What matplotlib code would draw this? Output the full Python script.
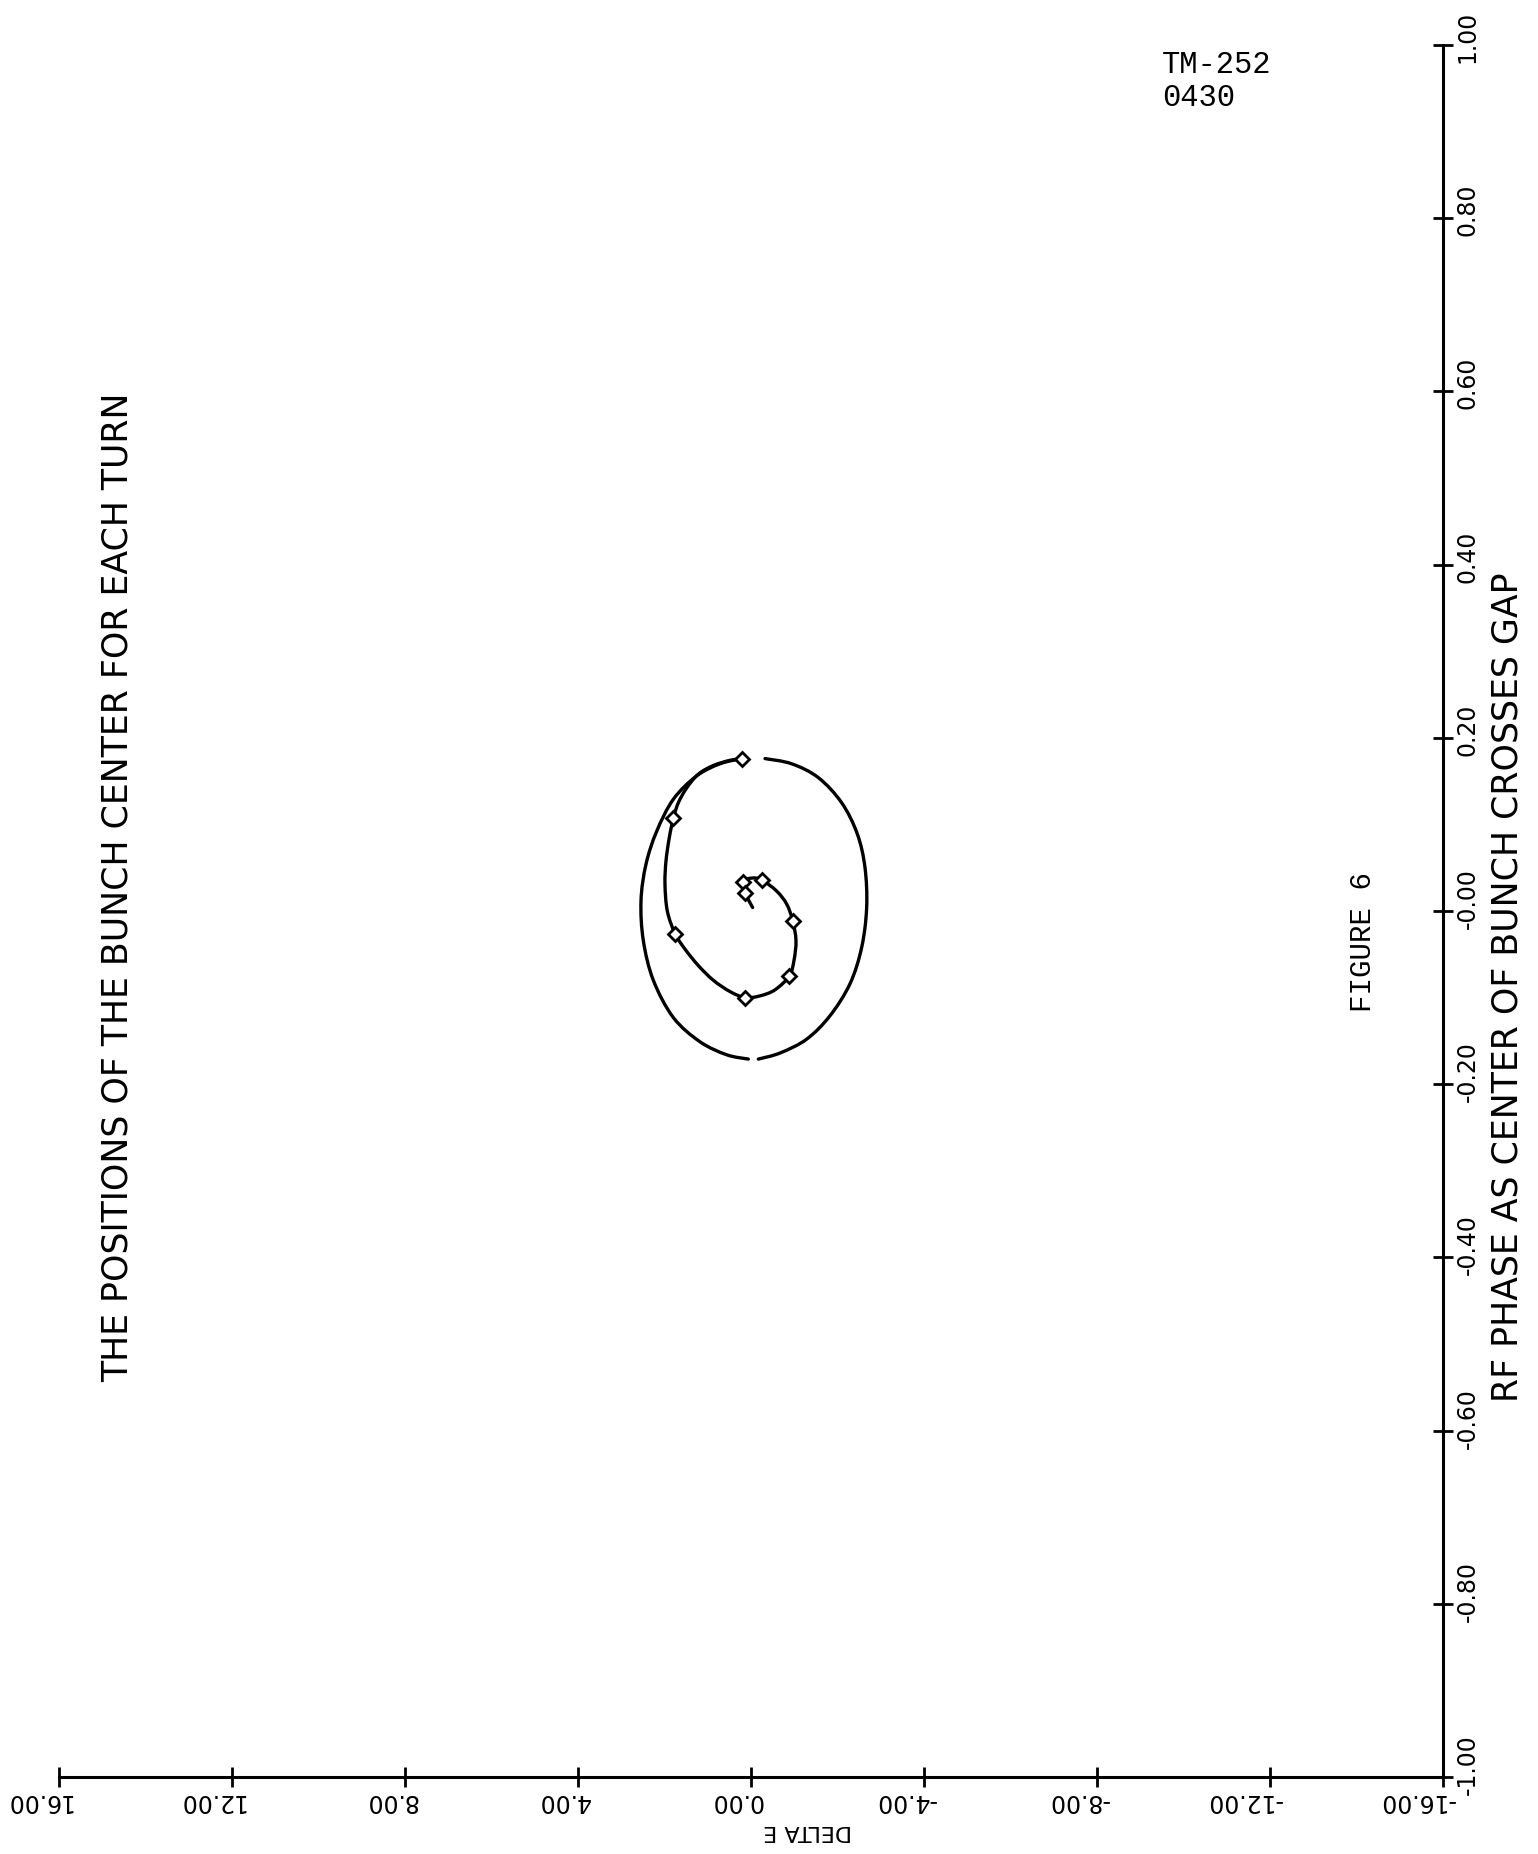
import matplotlib
matplotlib.use('Agg')
import matplotlib.pyplot as plt
import matplotlib.transforms as mtrans
import numpy as np
from matplotlib.path import Path
from matplotlib.patches import PathPatch

# bunch centre path, DELTA E vs RF phase
spiral_de = [0.216, 0.486, 0.871, 1.218, 1.488, 1.680, 1.796, 1.888, 1.965, 1.989,
             1.935, 1.757, 1.526, 1.218, 0.871, 0.486, 0.139, -0.208, -0.555, -0.886,
             -0.994, -1.040, -0.963, -0.825, -0.593, -0.247, -0.015, 0.177, 0.139, -0.038]
spiral_ph = [0.176, 0.174, 0.168, 0.158, 0.142, 0.125, 0.107, 0.085, 0.058, 0.031,
             0.000, -0.026, -0.044, -0.063, -0.080, -0.093, -0.100, -0.098, -0.091, -0.075,
             -0.057, -0.034, -0.011, 0.008, 0.023, 0.036, 0.038, 0.034, 0.021, 0.004]

# diamond markers
turn_de = [0.216, 1.796, 1.757, 0.139, -0.886, -0.963, -0.247, 0.177, 0.139]
turn_ph = [0.176, 0.107, -0.026, -0.100, -0.075, -0.011, 0.036, 0.034, 0.021]

# outer loop, drawn in two pieces (pen gaps at top and bottom)
outer_left_de = [0.216, 0.717, 1.256, 1.796, 2.181, 2.428, 2.543, 2.490, 2.258, 1.796, 1.179, 0.563, 0.062]
outer_left_ph = [0.176, 0.170, 0.156, 0.129, 0.092, 0.054, 0.012, -0.034, -0.080, -0.123, -0.151, -0.166, -0.171]
outer_right_de = [-0.169, -0.670, -1.287, -1.826, -2.289, -2.559, -2.674, -2.636, -2.458, -2.096, -1.557, -0.940, -0.324]
outer_right_ph = [-0.171, -0.164, -0.148, -0.121, -0.084, -0.042, 0.004, 0.050, 0.089, 0.125, 0.154, 0.170, 0.176]

de_ticks = [16, 12, 8, 4, 0, -4, -8, -12, -16]
de_labels = ['16.00', '12.00', '8.00', '4.00', '0.00', '-4.00', '-8.00', '-12.00', '-16.00']
ph_ticks = [-1.0, -0.8, -0.6, -0.4, -0.2, 0.0, 0.2, 0.4, 0.6, 0.8, 1.0]
ph_labels = ['-1.00', '-0.80', '-0.60', '-0.40', '-0.20', '-0.00', '0.20', '0.40', '0.60', '0.80', '1.00']

plot_font = 'DejaVu Sans'
type_font = 'Liberation Mono'


def pen_path(xs, ys):
    # smooth pen stroke through the read points (catmull-rom as cubic bezier)
    pts = np.column_stack([xs, ys])
    n = len(pts)
    verts = [pts[0]]
    codes = [Path.MOVETO]
    for i in range(n - 1):
        p0 = pts[max(i - 1, 0)]
        p1 = pts[i]
        p2 = pts[i + 1]
        p3 = pts[min(i + 2, n - 1)]
        verts += [p1 + (p2 - p0) / 6, p2 - (p3 - p1) / 6, p2]
        codes += [Path.CURVE4] * 3
    return Path(verts, codes)


W, H = 1538, 1854
fig = plt.figure(figsize=(W / 100, H / 100), dpi=100)
ax = fig.add_axes([59 / W, 1 - 1777 / H, 1384 / W, 1732 / H])

for xs, ys in [(outer_left_de, outer_left_ph), (outer_right_de, outer_right_ph), (spiral_de, spiral_ph)]:
    ax.add_patch(PathPatch(pen_path(xs, ys), fill=False, edgecolor='black', lw=2.4, capstyle='round'))
ax.plot(turn_de, turn_ph, ls='none', marker='D', ms=7, mfc='white', mec='black', mew=2)

ax.set_xlim(16, -16)
ax.set_ylim(-1, 1)
ax.spines['top'].set_visible(False)
ax.spines['left'].set_visible(False)
ax.spines['bottom'].set_linewidth(2.2)
ax.spines['right'].set_linewidth(2.2)
ax.yaxis.tick_right()

ax.set_xticks(de_ticks)
ax.set_xticklabels(de_labels, rotation=180, family=plot_font, fontsize=17, ha='right')
ax.set_yticks(ph_ticks)
ax.set_yticklabels(ph_labels, rotation=90, family=plot_font, fontsize=17, va='bottom')
ax.tick_params(direction='inout', length=14, width=2)
ax.tick_params(axis='x', pad=2)
ax.tick_params(axis='y', pad=2)

# plotter starts each label a little before the tick
xoff = mtrans.ScaledTranslation(0.12, 0, fig.dpi_scale_trans)
for lab in ax.get_xticklabels():
    lab.set_transform(lab.get_transform() + xoff)
yoff = mtrans.ScaledTranslation(0, -0.18, fig.dpi_scale_trans)
for lab in ax.get_yticklabels():
    lab.set_transform(lab.get_transform() + yoff)

fig.text(118 / W, 1 - 887 / H, 'THE POSITIONS OF THE BUNCH CENTER FOR EACH TURN',
         rotation=90, ha='center', va='center', fontsize=25, family=plot_font)
fig.text(1507 / W, 1 - 987 / H, 'RF PHASE AS CENTER OF BUNCH CROSSES GAP',
         rotation=90, ha='center', va='center', fontsize=25, family=plot_font)
fig.text(808 / W, 1 - 1831 / H, 'DELTA E', rotation=180, ha='center', va='center',
         fontsize=16, family=plot_font)
fig.text(1363 / W, 1 - 942 / H, 'FIGURE 6', rotation=90, ha='center', va='center',
         fontsize=21, family=type_font)
fig.text(1162 / W, 1 - 50 / H, 'TM-252\n0430', ha='left', va='top',
         fontsize=22, family=type_font, linespacing=1.15)

fig.savefig('out.png', dpi=100)
